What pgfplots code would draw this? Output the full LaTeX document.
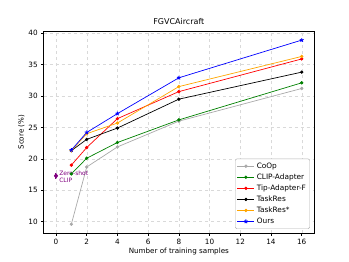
\documentclass[border=0pt]{standalone}
\usepackage{pgfplots}
\pgfplotsset{compat=1.18}
\usepackage{fontspec}
\setmainfont{DejaVu Sans}
\definecolor{mplgray}{HTML}{A9A9A9}
\definecolor{mplgreen}{HTML}{008000}
\definecolor{mplorange}{HTML}{FFA500}
\definecolor{mplpurple}{HTML}{800080}
\begin{document}
\begin{tikzpicture}
\begin{axis}[
  scale only axis,
  width=270.3bp, height=201.7bp,
  xmin=-0.8, xmax=16.8, ymin=8.2, ymax=40.3,
  xtick={0,2,4,6,8,10,12,14,16},
  ytick={10,15,20,25,30,35,40},
  /pgf/number format/assume math mode=true,
  ticklabel style={font=\fontsize{7.3}{8}\selectfont},
  tick align=outside,
  major tick length=2.5bp,
  tick style={black, line width=0.5bp},
  xtick pos=bottom, ytick pos=left,
  grid=major,
  grid style={dashed, gray!30, line width=0.4bp},
  axis line style={line width=0.6bp},
  title={FGVCAircraft},
  title style={font=\fontsize{8}{9}\selectfont, yshift=-3bp},
  xlabel={Number of training samples},
  ylabel={Score (\%)},
  label style={font=\fontsize{7.2}{8}\selectfont},
  xlabel style={yshift=3bp},
  ylabel style={yshift=-3bp},
  legend style={font=\fontsize{7.4}{8.5}\selectfont, draw=gray!60, rounded corners=1.5bp,
    row sep=0bp, inner sep=1.8bp, at={(0.985,0.02)}, anchor=south east, cells={anchor=west}},
  every axis plot/.append style={line width=0.7bp, mark size=1.3bp},
]
\addplot[mplgray, mark=*] coordinates {(1,9.6) (2,18.7) (4,21.9) (8,26.0) (16,31.2)};
\addlegendentry{CoOp}
\addplot[mplgreen, mark=*] coordinates {(1,17.6) (2,20.1) (4,22.6) (8,26.2) (16,32.1)};
\addlegendentry{CLIP-Adapter}
\addplot[red, mark=*] coordinates {(1,19.0) (2,21.8) (4,26.4) (8,30.7) (16,35.9)};
\addlegendentry{Tip-Adapter-F}
\addplot[black, mark=*] coordinates {(1,21.3) (2,23.1) (4,24.9) (8,29.5) (16,33.8)};
\addlegendentry{TaskRes}
\addplot[mplorange, mark=*] coordinates {(1,21.3) (2,24.0) (4,25.7) (8,31.5) (16,36.3)};
\addlegendentry{TaskRes*}
\addplot[blue, mark=star, mark size=2bp, mark options={line width=0.9bp}] coordinates {(1,21.4) (2,24.2) (4,27.2) (8,32.9) (16,38.9)};
\addlegendentry{Ours}
\addplot[mplpurple, mark=diamond*, mark size=2.2bp, only marks, forget plot,
  error bars/.cd, y dir=both, y explicit, error bar style={line width=1bp}, error mark=none]
  coordinates {(0,17.3) +- (0,0.45)};
\node[mplpurple, font=\fontsize{6}{7}\selectfont, anchor=west, align=left, inner sep=0pt] at (axis cs:0.2,17.2) {Zero-shot\\CLIP};
\end{axis}
\path (current axis.south west) ++(-43.7bp,-29bp) (current axis.north east) ++(35bp,31.3bp);
\end{tikzpicture}
\end{document}
